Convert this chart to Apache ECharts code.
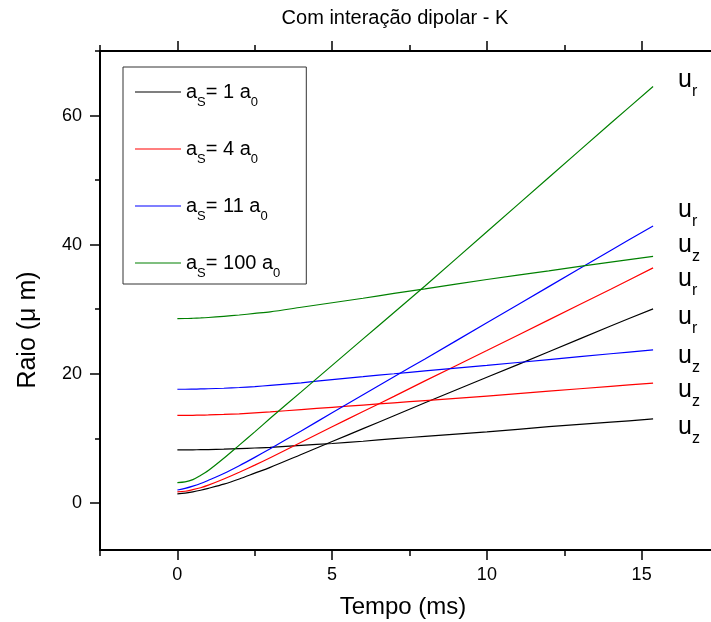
<!DOCTYPE html>
<html>
<head>
    <meta charset="utf-8"/>
    <title>Com interação dipolar - K</title>
    <style>
        html, body { margin: 0; padding: 0; background: #fff; }
        #chartRaio { width: 711px; height: 622px; }
    </style>
</head>
<body>
<div id="chartRaio"></div>

<script type="text/javascript" src="https://cdn.jsdelivr.net/npm/echarts@6/dist/echarts.min.js"></script>
<script>
    // dados (tempo em ms, raio em µm)
    var tempo = [0, 0.25, 0.5, 0.75, 1, 1.5, 2, 2.5, 3, 4, 5, 6, 7, 8, 10, 12, 14, 15.37];

    var urA1   = [1.4, 1.5, 1.7, 1.95, 2.25, 2.9, 3.7, 4.6, 5.5, 7.5, 9.5, 11.5, 13.5, 15.5, 19.45, 23.4, 27.4, 30.05];
    var uzA1   = [8.2, 8.2, 8.22, 8.24, 8.26, 8.32, 8.4, 8.5, 8.6, 8.9, 9.2, 9.55, 9.95, 10.3, 11.0, 11.8, 12.5, 13.0];
    var urA4   = [1.7, 1.8, 2.05, 2.35, 2.75, 3.7, 4.75, 5.85, 7.0, 9.4, 11.8, 14.15, 16.5, 18.9, 23.6, 28.35, 33.1, 36.4];
    var uzA4   = [13.55, 13.55, 13.57, 13.59, 13.62, 13.7, 13.8, 13.95, 14.1, 14.45, 14.8, 15.15, 15.5, 15.85, 16.55, 17.3, 18.05, 18.55];
    var urA11  = [2.0, 2.25, 2.6, 3.0, 3.5, 4.55, 5.75, 7.05, 8.4, 11.15, 13.95, 16.75, 19.55, 22.3, 27.9, 33.5, 39.1, 42.9];
    var uzA11  = [17.6, 17.6, 17.62, 17.65, 17.68, 17.76, 17.87, 18.02, 18.2, 18.6, 19.1, 19.55, 20.0, 20.45, 21.3, 22.2, 23.1, 23.7];
    var urA100 = [3.15, 3.25, 3.6, 4.25, 5.0, 6.9, 8.95, 11.0, 13.1, 17.2, 21.3, 25.4, 29.5, 33.6, 42.0, 50.4, 58.8, 64.5];
    var uzA100 = [28.55, 28.56, 28.6, 28.65, 28.72, 28.9, 29.1, 29.35, 29.6, 30.3, 31.0, 31.7, 32.45, 33.15, 34.6, 35.95, 37.3, 38.2];

    var nomes = ['aS= 1 a0', 'aS= 4 a0', 'aS= 11 a0', 'aS= 100 a0'];

    var xMajor = [0, 5, 10, 15];
    var xMinor = [-2.5, 2.5, 7.5, 12.5, 17.5];
    var yMajor = [0, 20, 40, 60];
    var yMinor = [10, 30, 50, 70];

    var fonte = 'Liberation Sans, Arial, sans-serif';
    var cores = ['#000000', '#ff0000', '#0000ff', '#008000'];

    var pares = function (valores) {
        return tempo.map(function (t, i) { return [t, valores[i]]; });
    };

    // uma série (u_r ou u_z) com o rótulo no fim da curva
    var serie = function (i, valores, comp, deslocamento) {
        return {
            name: nomes[i],
            type: 'line',
            data: pares(valores),
            symbol: 'none',
            showSymbol: false,
            smooth: 0.3,
            silent: true,
            lineStyle: { color: cores[i], width: 1.2 },
            itemStyle: { color: cores[i] },
            endLabel: {
                show: true,
                formatter: '{u|u}{s|' + comp + '}',
                offset: deslocamento,
                rich: {
                    u: { fontSize: 25, color: '#000', fontFamily: fonte },
                    s: { fontSize: 16, color: '#000', fontFamily: fonte, padding: [23, 0, 0, 0] }
                }
            }
        };
    };

    var eixoX = function (pos, ticks, tam, linha, rotulos) {
        return {
            type: 'value', position: pos, min: -2.5, max: 17.5,
            axisLine: { show: linha, onZero: false, lineStyle: { color: '#000', width: 2 } },
            axisTick: { show: true, customValues: ticks, length: tam, lineStyle: { color: '#000', width: 1.5 } },
            axisLabel: rotulos ? { show: true, customValues: xMajor, margin: 16, color: '#000', fontSize: 18, fontFamily: fonte } : { show: false },
            splitLine: { show: false }
        };
    };

    var eixoY = function (ticks, tam, linha, rotulos) {
        return {
            type: 'value', position: 'left', min: -7.3, max: 70,
            axisLine: { show: linha, onZero: false, lineStyle: { color: '#000', width: 2 } },
            axisTick: { show: true, customValues: ticks, length: tam, lineStyle: { color: '#000', width: 1.5 } },
            axisLabel: rotulos ? { show: true, customValues: yMajor, margin: 18, color: '#000', fontSize: 18, fontFamily: fonte } : { show: false },
            splitLine: { show: false }
        };
    };

    var chartRaio = echarts.init(document.getElementById('chartRaio'));
    var option = {
        backgroundColor: '#fff',
        animation: false,
        grid: { left: 100, top: 51, right: -8, bottom: 72, containLabel: false, outerBoundsMode: 'none' },
        legend: {
            orient: 'vertical',
            left: 123, top: 67,
            data: nomes,
            selectedMode: false,
            icon: 'rect',
            itemWidth: 46, itemHeight: 1, itemGap: 23,
            padding: [8, 26, 4, 12],
            borderColor: '#333', borderWidth: 1,
            formatter: function (name) {
                var n = name.match(/\d+/)[0];
                return '{a|a}{s|S}{a|= ' + n + ' a}{s|0}';
            },
            textStyle: {
                rich: {
                    a: { fontSize: 20, color: '#000', fontFamily: fonte, lineHeight: 24 },
                    s: { fontSize: 13, color: '#000', fontFamily: fonte, lineHeight: 13, padding: [21, 0, 0, 0] }
                }
            }
        },
        xAxis: [
            eixoX('bottom', xMajor, 10, true, true),
            eixoX('bottom', xMinor, 6, false, false),
            eixoX('top', xMajor, 10, true, false),
            eixoX('top', xMinor, 6, false, false)
        ],
        yAxis: [
            eixoY(yMajor, 10, true, true),
            eixoY(yMinor, 5, false, false)
        ],
        graphic: [
            { type: 'text', x: 395, y: 18, style: { text: 'Com interação dipolar - K', fontSize: 20, fontFamily: fonte, fill: '#000', align: 'center', verticalAlign: 'middle' } },
            { type: 'text', x: 403, y: 607, style: { text: 'Tempo (ms)', fontSize: 24, fontFamily: fonte, fill: '#000', align: 'center', verticalAlign: 'middle' } },
            { type: 'text', x: 28, y: 330, rotation: Math.PI / 2, style: { text: 'Raio (\u03bc m)', fontSize: 25, fontFamily: fonte, fill: '#000', align: 'center', verticalAlign: 'middle' } }
        ],
        series: [
            serie(0, urA1, 'r', [17, 8]),
            serie(0, uzA1, 'z', [17, 8]),
            serie(1, urA4, 'r', [17, 11]),
            serie(1, uzA4, 'z', [17, 7]),
            serie(2, urA11, 'r', [17, -16]),
            serie(2, uzA11, 'z', [17, 6]),
            serie(3, urA100, 'r', [17, -6]),
            serie(3, uzA100, 'z', [17, -11])
        ]
    };
    chartRaio.setOption(option);
</script>
</body>
</html>
